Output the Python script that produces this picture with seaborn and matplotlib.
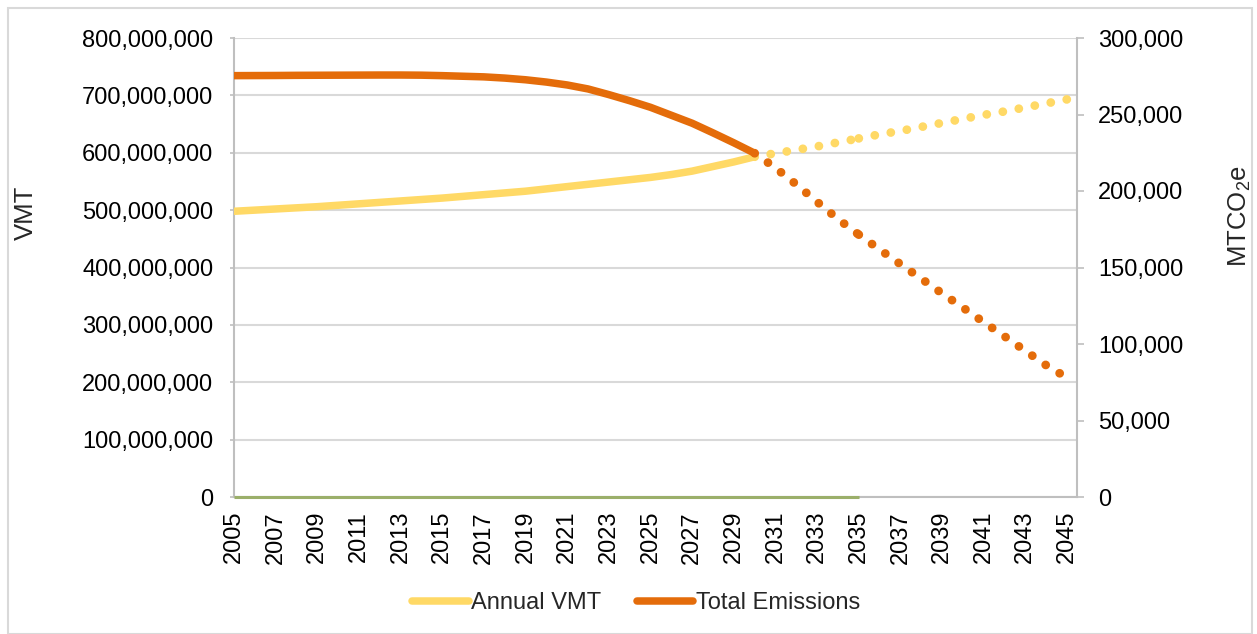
import matplotlib
matplotlib.use("Agg")
import matplotlib.pyplot as plt
from matplotlib.lines import Line2D
from matplotlib.patches import Rectangle
from matplotlib.ticker import FuncFormatter, MultipleLocator
import seaborn as sns

# ---- data -------------------------------------------------------------
years_hist = list(range(2005, 2031))
vmt_hist = [
    498_000_000, 500_000_000, 502_000_000, 504_000_000, 506_000_000,
    508_500_000, 511_000_000, 513_500_000, 516_000_000, 518_500_000,
    521_000_000, 524_000_000, 527_000_000, 530_000_000, 533_000_000,
    537_000_000, 541_000_000, 545_000_000, 549_000_000, 553_000_000,
    557_000_000, 562_000_000, 568_000_000, 576_000_000, 584_000_000,
    593_000_000,
]
emis_hist = [
    275_400, 275_450, 275_500, 275_600, 275_650, 275_700, 275_750,
    275_800, 275_800, 275_700, 275_400, 275_000, 274_600, 273_800,
    272_700, 271_200, 269_300, 266_700, 263_000, 259_000, 254_700,
    249_500, 244_300, 238_000, 231_500, 224_700,
]

years_proj = list(range(2030, 2046))
vmt_proj = [
    593_000_000, 599_000_000, 605_000_000, 611_000_000, 618_000_000,
    625_000_000, 632_000_000, 638_000_000, 645_000_000, 652_000_000,
    659_000_000, 666_000_000, 672_000_000, 679_000_000, 686_000_000,
    693_000_000,
]
emis_proj = [
    224_700, 215_100, 204_300, 192_900, 181_700, 171_500, 161_800,
    152_200, 142_700, 133_100, 123_800, 114_300, 105_000, 95_500,
    86_100, 78_000,
]
proj_break_year = 2035

years_base = list(range(2005, 2036))
base_vals = [0, 0, 0, 0, 0, 0, 0, 0, 0, 0, 0, 0, 0, 0, 0, 0,
             0, 0, 0, 0, 0, 0, 0, 0, 0, 0, 0, 0, 0, 0, 0]

x_ticks = list(range(2005, 2046, 2))
series_labels = ["Annual VMT", "Total Emissions"]

# ---- style ------------------------------------------------------------
sns.set_style("white")
plt.rcParams["font.family"] = ["Liberation Sans", "DejaVu Sans"]
plt.rcParams["mathtext.fontset"] = "custom"
plt.rcParams["mathtext.rm"] = "Liberation Sans"
plt.rcParams["mathtext.it"] = "Liberation Sans:italic"
plt.rcParams["mathtext.bf"] = "Liberation Sans:bold"

C_VMT = "#FFD966"
C_EMIS = "#E46C0A"
C_BASE = "#9BAF6A"
C_GRID = "#D9D9D9"
C_AXIS = "#BFBFBF"
FS = 17
LW_SOLID = 5.4
LW_DOT = 6.3
dot_style = (0, (0.01, 1.85))

fig = plt.figure(figsize=(12.57, 6.34), dpi=100)
fig.patches.append(Rectangle((8 / 1257, 0.0), 1244 / 1257, 1 - 8 / 634,
                             transform=fig.transFigure, fill=False,
                             edgecolor=C_GRID, linewidth=1.5))

ax = fig.add_axes([234 / 1257, 1 - 497 / 634, (1077 - 234) / 1257, (497 - 38) / 634])
ax2 = ax.twinx()


def dotted_projection(axis, years, values, color):
    """Draw the projection as two dotted segments split at the break year."""
    k = years.index(proj_break_year)
    for xs, ys in ((years[:k + 1], values[:k + 1]), (years[k:], values[k:])):
        sns.lineplot(x=xs, y=ys, ax=axis, color=color, linewidth=LW_DOT,
                     linestyle=dot_style, dash_capstyle="round", zorder=3)


# primary axis: VMT
sns.lineplot(x=years_hist, y=vmt_hist, ax=ax, color=C_VMT, linewidth=LW_SOLID,
             solid_capstyle="round", zorder=3)
dotted_projection(ax, years_proj, vmt_proj, C_VMT)
sns.lineplot(x=years_base, y=base_vals, ax=ax, color=C_BASE, linewidth=2.2,
             solid_capstyle="butt", zorder=4, clip_on=False)

# secondary axis: emissions
sns.lineplot(x=years_hist, y=emis_hist, ax=ax2, color=C_EMIS, linewidth=LW_SOLID,
             solid_capstyle="round", zorder=3)
dotted_projection(ax2, years_proj, emis_proj, C_EMIS)

ax.set_xlim(2005, 2045.48)
ax.set_ylim(0, 800_000_000)
ax2.set_ylim(0, 300_000)

ax.yaxis.set_major_locator(MultipleLocator(100_000_000))
ax2.yaxis.set_major_locator(MultipleLocator(50_000))
fmt = FuncFormatter(lambda v, _: f"{v:,.0f}")
ax.yaxis.set_major_formatter(fmt)
ax2.yaxis.set_major_formatter(fmt)
ax.set_xticks(x_ticks)
ax.set_xticklabels([str(y) for y in x_ticks], rotation=90)

ax.grid(axis="y", color=C_GRID, linewidth=1.5)
ax.grid(axis="x", visible=False)
ax.set_axisbelow(True)
ax2.grid(False)

for a in (ax, ax2):
    a.spines["top"].set_visible(False)
    for side in ("left", "right", "bottom"):
        a.spines[side].set_color(C_AXIS)
        a.spines[side].set_linewidth(1.5)
ax.spines["right"].set_visible(False)
ax2.spines["left"].set_visible(False)
ax2.spines["bottom"].set_visible(False)

ax.tick_params(axis="y", length=3, width=1.2, color=C_AXIS, pad=12,
               labelsize=FS, labelcolor="black", left=True)
ax.tick_params(axis="x", length=0, pad=10, labelsize=FS, labelcolor="black")
ax2.tick_params(axis="y", length=5, width=1.2, color=C_AXIS, pad=10,
                labelsize=FS, labelcolor="black", right=True)
ax.set_xlabel("")
ax.set_ylabel("")
ax2.set_ylabel("")

fig.text(26 / 1257, 1 - 213 / 634, "VMT", rotation=90, ha="center",
         va="center", fontsize=18.5)
fig.text(1240 / 1257, 1 - 216 / 634, r"MTCO$_\mathregular{2}$e", rotation=90,
         ha="center", va="center", fontsize=18.5)

handles = [
    Line2D([0], [0], color=C_VMT, linewidth=LW_SOLID, solid_capstyle="round"),
    Line2D([0], [0], color=C_EMIS, linewidth=LW_SOLID, solid_capstyle="round"),
]
fig.legend(handles, series_labels, loc="center",
           bbox_to_anchor=(636 / 1257, 1 - 603 / 634), ncol=2, frameon=False,
           fontsize=FS, handlelength=2.4, handletextpad=0.1,
           columnspacing=1.5)

fig.savefig("out.png", dpi=100)
